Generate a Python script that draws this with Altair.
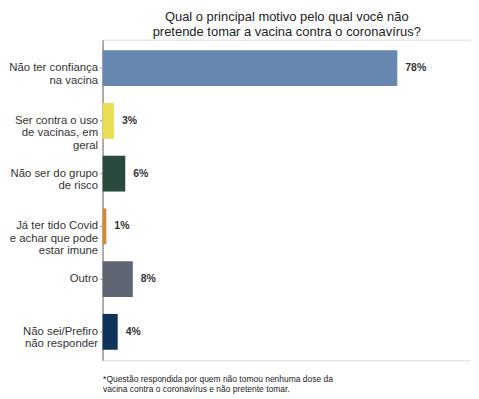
import altair as alt
import pandas as pd

categories = [
    "Não ter confiança|na vacina",
    "Ser contra o uso|de vacinas, em|geral",
    "Não ser do grupo|de risco",
    "Já ter tido Covid|e achar que pode|estar imune",
    "Outro",
    "Não sei/Prefiro|não responder",
]
values = [78, 3, 6, 1, 8, 4]
labels = ["78%", "3%", "6%", "1%", "8%", "4%"]
colors = ["#6687B0", "#E9DE55", "#2B4A3E", "#D3883A", "#5E6573", "#10335A"]

title_lines = ["Qual o principal motivo pelo qual você não", "pretende tomar a vacina contra o coronavírus?"]
footnote = ["*Questão respondida por quem não tomou nenhuma dose da", "vacina contra o coronavírus e não pretente tomar."]

df = pd.DataFrame({"cat": categories, "val": values, "lab": labels})

FONT = "Liberation Sans"

y = alt.Y(
    "cat:N",
    sort=categories,
    scale=alt.Scale(paddingInner=0.32, paddingOuter=0.2),
    axis=alt.Axis(
        title=None,
        labelExpr="split(datum.label, '|')",
        labelFontSize=11.4,
        labelFont=FONT,
        labelColor="#333333",
        labelAlign="right",
        labelLineHeight=12.5,
        labelPadding=2,
        labelLimit=200,
        tickSize=3,
        tickColor="#999999",
        domainColor="#9a9a9a",
        domainWidth=1.5,
    ),
)

x = alt.X(
    "val:Q",
    scale=alt.Scale(domain=[0, 97.5], nice=False),
    axis=alt.Axis(
        title=footnote,
        titleFont=FONT,
        titleFontSize=8.5,
        titleFontWeight="normal",
        titleColor="#222222",
        titleAnchor="start",
        titleAlign="left",
        titleLineHeight=10.5,
        titlePadding=14,
        labels=False,
        ticks=False,
        domain=False,
        grid=False,
    ),
)

bars = alt.Chart(df).mark_bar().encode(
    x=x,
    y=y,
    color=alt.Color("cat:N", scale=alt.Scale(domain=categories, range=colors), legend=None),
)

text = alt.Chart(df).mark_text(
    align="left", dx=8, fontSize=10.5, fontWeight="bold", font=FONT, color="#333333"
).encode(x="val:Q", y=alt.Y("cat:N", sort=categories), text="lab:N")

chart = (
    (bars + text)
    .properties(
        width=370,
        height=322,
        title=alt.TitleParams(
            text=title_lines,
            font=FONT,
            fontSize=13,
            fontWeight="normal",
            color="#222222",
            anchor="middle",
            lineHeight=15,
            offset=1,
        ),
    )
    .configure_view(stroke=None)
    .configure(padding={"left": 0, "top": 2, "right": 0, "bottom": 0})
)

chart.save("out.html", embed_options={"renderer": "svg", "actions": False})
